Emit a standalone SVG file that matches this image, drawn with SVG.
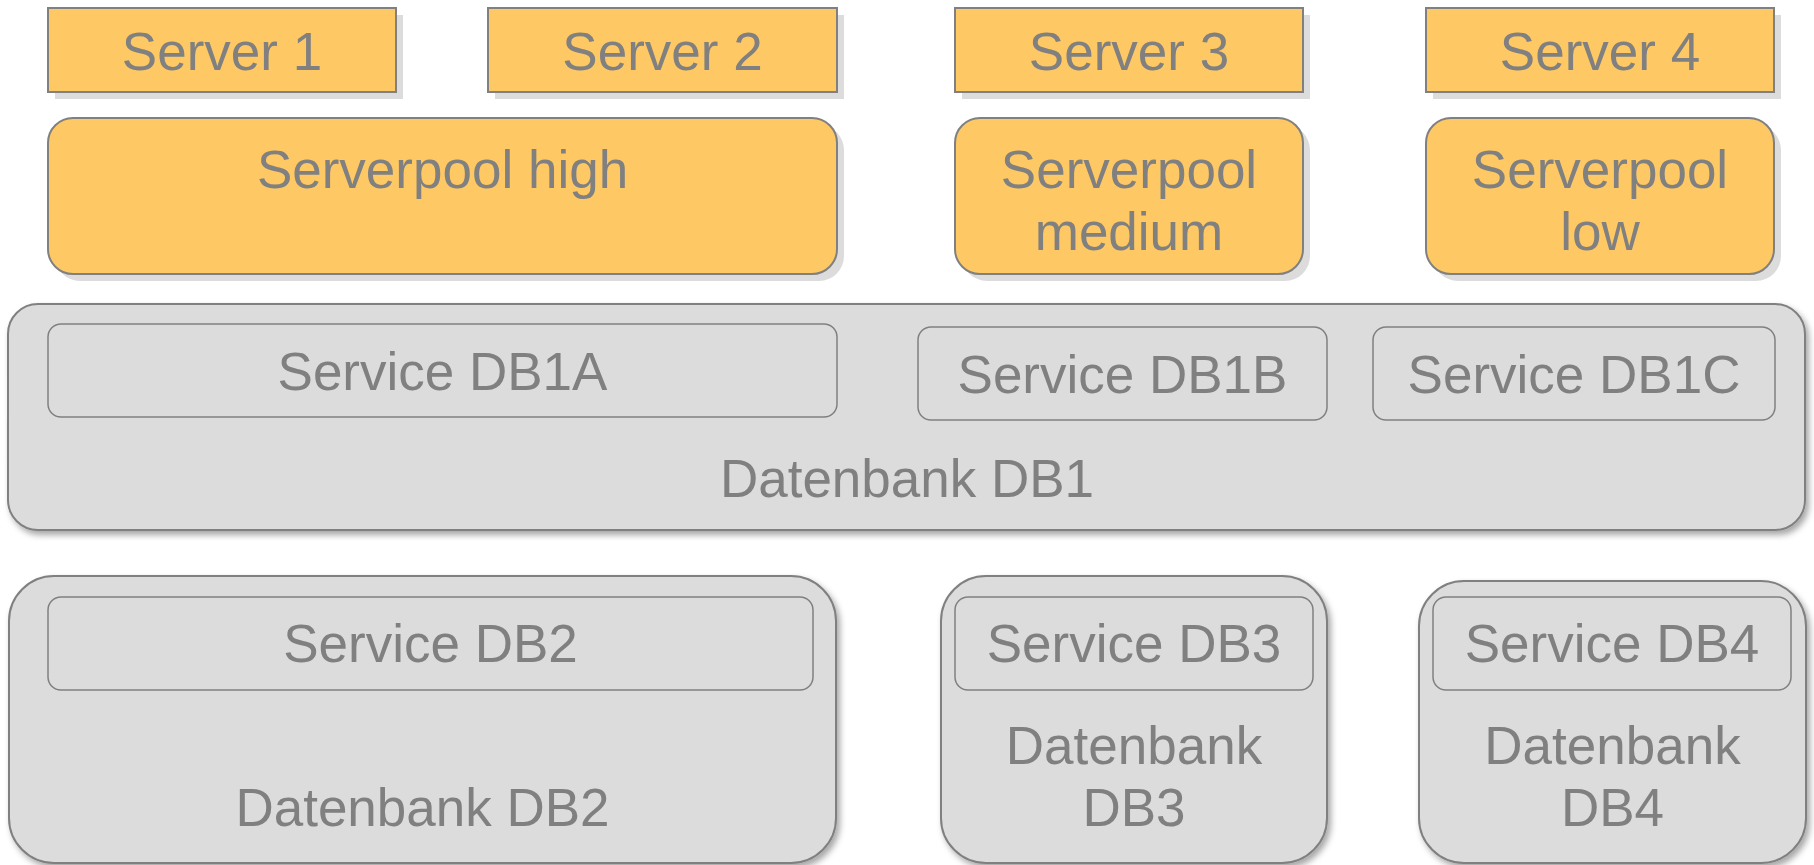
<svg xmlns="http://www.w3.org/2000/svg" width="1814" height="865" viewBox="0 0 1814 865">
<defs>
<filter id="dbShadow" x="-5%" y="-5%" width="110%" height="115%">
<feDropShadow dx="3" dy="4" stdDeviation="3" flood-color="#000" flood-opacity="0.35"/>
</filter>
<style>
.txt{font-family:"Liberation Sans",Arial,sans-serif;font-size:53px;fill:#808080;text-anchor:middle}
.srv{fill:#fec964;stroke:#808080;stroke-width:2}
.shd{fill:#dcdcdc}
.db{fill:#dcdcdc;stroke:#808080;stroke-width:2;filter:url(#dbShadow)}
.svc{fill:#dcdcdc;stroke:#808080;stroke-width:1.5}
</style>
</defs>
<rect width="1814" height="865" fill="#ffffff"/>
<g id="server1">
<rect class="shd" x="55" y="15" width="348" height="84"/>
<rect class="srv" x="48" y="8" width="348" height="84"/>
<text class="txt" x="222" y="70">Server 1</text>
</g>
<g id="server2">
<rect class="shd" x="495" y="15" width="349" height="84"/>
<rect class="srv" x="488" y="8" width="349" height="84"/>
<text class="txt" x="662.5" y="70">Server 2</text>
</g>
<g id="server3">
<rect class="shd" x="962" y="15" width="348" height="84"/>
<rect class="srv" x="955" y="8" width="348" height="84"/>
<text class="txt" x="1129" y="70">Server 3</text>
</g>
<g id="server4">
<rect class="shd" x="1433" y="15" width="348" height="84"/>
<rect class="srv" x="1426" y="8" width="348" height="84"/>
<text class="txt" x="1600" y="70">Server 4</text>
</g>
<g id="pool-high">
<rect class="shd" x="55" y="125" width="789" height="156" rx="25"/>
<rect class="srv" x="48" y="118" width="789" height="156" rx="25"/>
<text class="txt" x="442.5" y="188">Serverpool high</text>
</g>
<g id="pool-medium">
<rect class="shd" x="962" y="125" width="348" height="156" rx="25"/>
<rect class="srv" x="955" y="118" width="348" height="156" rx="25"/>
<text class="txt" x="1129" y="188">Serverpool</text>
<text class="txt" x="1129" y="250">medium</text>
</g>
<g id="pool-low">
<rect class="shd" x="1433" y="125" width="348" height="156" rx="25"/>
<rect class="srv" x="1426" y="118" width="348" height="156" rx="25"/>
<text class="txt" x="1600" y="188">Serverpool</text>
<text class="txt" x="1600" y="250">low</text>
</g>
<g id="db1">
<rect class="db" x="8" y="304" width="1797" height="226" rx="30"/>
<text class="txt" x="907" y="497">Datenbank DB1</text>
</g>
<g id="svc-db1a">
<rect class="svc" x="48" y="324" width="789" height="93" rx="13"/>
<text class="txt" x="442.5" y="390">Service DB1A</text>
</g>
<g id="svc-db1b">
<rect class="svc" x="918" y="327" width="409" height="93" rx="13"/>
<text class="txt" x="1122.5" y="393">Service DB1B</text>
</g>
<g id="svc-db1c">
<rect class="svc" x="1373" y="327" width="402" height="93" rx="13"/>
<text class="txt" x="1574" y="393">Service DB1C</text>
</g>
<g id="db2">
<rect class="db" x="9" y="576" width="827" height="287" rx="45"/>
<text class="txt" x="422.5" y="826">Datenbank DB2</text>
</g>
<g id="svc-db2">
<rect class="svc" x="48" y="597" width="765" height="93" rx="13"/>
<text class="txt" x="430.5" y="662">Service DB2</text>
</g>
<g id="db3">
<rect class="db" x="941" y="576" width="386" height="287" rx="45"/>
<text class="txt" x="1134" y="764">Datenbank</text>
<text class="txt" x="1134" y="826">DB3</text>
</g>
<g id="svc-db3">
<rect class="svc" x="955" y="597" width="358" height="93" rx="13"/>
<text class="txt" x="1134" y="662">Service DB3</text>
</g>
<g id="db4">
<rect class="db" x="1419" y="581" width="387" height="282" rx="45"/>
<text class="txt" x="1612.5" y="764">Datenbank</text>
<text class="txt" x="1612.5" y="826">DB4</text>
</g>
<g id="svc-db4">
<rect class="svc" x="1433" y="597" width="358" height="93" rx="13"/>
<text class="txt" x="1612" y="662">Service DB4</text>
</g>
<g id="connectors"></g>
</svg>
